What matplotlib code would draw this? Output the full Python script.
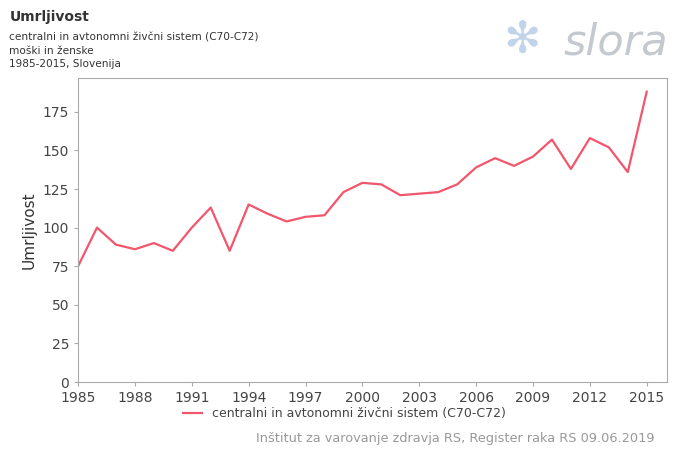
import matplotlib
matplotlib.use("Agg")
import matplotlib.pyplot as plt
from matplotlib.lines import Line2D

years = list(range(1985, 2016))
values = [75, 100, 89, 86, 90, 85, 100, 113, 85, 115, 109, 104, 107, 108, 123, 129,
          128, 121, 122, 123, 128, 139, 145, 140, 146, 157, 138, 158, 152, 136, 188]
xticks = list(range(1985, 2016, 3))
yticks = [0, 25, 50, 75, 100, 125, 150, 175]
series_label = "centralni in avtonomni živčni sistem (C70-C72)"

fig = plt.figure(figsize=(6.75, 4.5), dpi=100)
ax = fig.add_axes([0.1156, 0.151, 0.872, 0.676])
ax.plot(years, values, color="#f2566c", lw=1.6)
ax.set_xlim(1985, 2016.05)
ax.set_ylim(0, 197)
ax.set_xticks(xticks)
ax.set_yticks(yticks)
for s in ax.spines.values():
    s.set_color("#aaaaaa")
ax.tick_params(colors="#444444", labelsize=10, length=3, color="#aaaaaa")
ax.set_ylabel("Umrljivost", fontsize=11, color="#333333")

fig.text(0.014, 0.962, "Umrljivost", fontsize=10, fontweight="bold", color="#333333", va="center")
fig.text(0.014, 0.916, "centralni in avtonomni živčni sistem (C70-C72)", fontsize=7.6, color="#333333", va="center")
fig.text(0.014, 0.887, "moški in ženske", fontsize=7.6, color="#333333", va="center")
fig.text(0.014, 0.858, "1985-2015, Slovenija", fontsize=7.6, color="#333333", va="center")
fig.text(0.835, 0.905, "slora", fontsize=31, style="italic", color="#c4c8cf", va="center")
fig.text(0.745, 0.91, "✻", fontsize=32, color="#c2d4ea", va="center")

handle = Line2D([0], [0], color="#f2566c", lw=1.6)
fig.legend([handle], [series_label], loc="center", bbox_to_anchor=(0.51, 0.08),
           frameon=False, fontsize=9, handlelength=1.5, labelcolor="#444444")
fig.text(0.97, 0.012, "Inštitut za varovanje zdravja RS, Register raka RS 09.06.2019",
         fontsize=9.3, color="#999999", ha="right", va="bottom")
fig.savefig("out.png", dpi=100)
